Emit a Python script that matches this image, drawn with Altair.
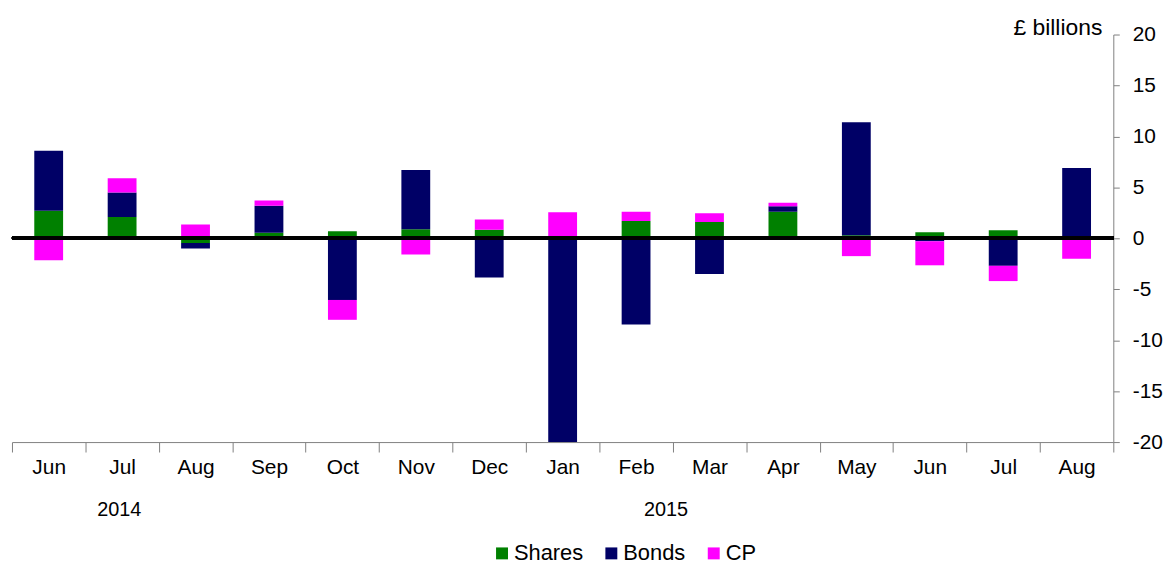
import altair as alt
import pandas as pd

months = ["Jun", "Jul", "Aug", "Sep", "Oct", "Nov", "Dec", "Jan", "Feb", "Mar", "Apr", "May", "Jun", "Jul", "Aug"]
years = [2014, 2014, 2014, 2014, 2014, 2014, 2014, 2015, 2015, 2015, 2015, 2015, 2015, 2015, 2015]
shares = [2.7, 2.1, -0.45, 0.55, 0.7, 0.9, 0.85, -0.15, 1.7, 1.6, 2.6, 0.3, 0.6, 0.8, 0.0]
bonds = [5.9, 2.4, -0.55, 2.65, -6.05, 5.8, -3.85, -21.0, -8.45, -3.5, 0.55, 11.1, -0.3, -2.7, 6.9]
cp = [-2.15, 1.4, 1.35, 0.5, -1.95, -1.6, 1.0, 2.55, 0.9, 0.85, 0.35, -1.75, -2.35, -1.5, -2.0]
series = ["Shares", "Bonds", "CP"]
colors = ["#008000", "#000066", "#FF00FF"]
year_labels = ["2014", "2015"]
unit_label = ["£ billions"]

keys = [f"{m} {y}" for m, y in zip(months, years)]
rows = []
for i, k in enumerate(keys):
    for j, (name, vals) in enumerate(zip(series, [shares, bonds, cp])):
        rows.append({"key": k, "series": name, "order": j, "value": vals[i]})
df = pd.DataFrame(rows)

FONT = "Liberation Sans"

x_enc = alt.X(
    "key:N",
    sort=keys,
    scale=alt.Scale(paddingInner=0, paddingOuter=0),
    axis=alt.Axis(
        title=None,
        labelExpr="split(datum.label, ' ')[0]",
        labelAngle=0,
        tickBand="extent",
        tickSize=10,
        tickColor="#808080",
        domainColor="#808080",
        labelFontSize=21,
        labelFont=FONT,
        labelColor="#000000",
        labelPadding=5,
        grid=False,
    ),
)

y_scale = alt.Scale(domain=[-20, 20], nice=False, zero=False)

bars = alt.Chart(df).mark_bar(width=29, clip=True).encode(
    x=x_enc,
    y=alt.Y(
        "value:Q",
        stack="zero",
        scale=y_scale,
        axis=alt.Axis(
            orient="right",
            title=None,
            values=list(range(-20, 25, 5)),
            labelExpr="toString(datum.value)",
            tickSize=6,
            tickColor="#808080",
            domainColor="#808080",
            labelFontSize=21,
            labelFont=FONT,
            labelColor="#000000",
            labelPadding=13,
            grid=False,
        ),
    ),
    color=alt.Color(
        "series:N",
        sort=series,
        scale=alt.Scale(domain=series, range=colors),
        legend=alt.Legend(
            title=None,
            orient="none",
            direction="horizontal",
            legendX=482,
            legendY=511,
            symbolType="square",
            symbolSize=144,
            symbolStrokeWidth=0,
            labelFontSize=22,
            labelFont=FONT,
            labelColor="#000000",
            labelOffset=1,
            columnPadding=17,
        ),
    ),
    order=alt.Order("order:Q", sort="ascending"),
)

zero_rule = alt.Chart(df).mark_rule(color="#000000", strokeWidth=3).encode(
    y=alt.datum(0)
)

unit_df = pd.DataFrame({"label": unit_label})
unit_text = alt.Chart(unit_df).mark_text(
    align="right", baseline="middle", fontSize=23, font=FONT, color="#000000"
).encode(x=alt.value(1097), y=alt.value(-7), text="label:N")

year_df = pd.DataFrame({"label": year_labels, "px": [108, 658]})
year_text = alt.Chart(year_df).mark_text(
    baseline="middle", align="center", fontSize=20, font=FONT, color="#000000"
).encode(
    x=alt.X("px:Q", scale=None),
    y=alt.value(478),
    text="label:N",
)

chart = (
    alt.layer(bars, zero_rule, unit_text, year_text)
    .properties(
        width=1108,
        height=410,
        autosize=alt.AutoSizeParams(type="none"),
        padding={"left": 4, "top": 25, "right": 52, "bottom": 125},
    )
    .configure(
        font=FONT,
        view=alt.ViewConfig(stroke="transparent", strokeWidth=0),
    )
)

chart.save("out.html", embed_options={"renderer": "svg", "actions": False})
